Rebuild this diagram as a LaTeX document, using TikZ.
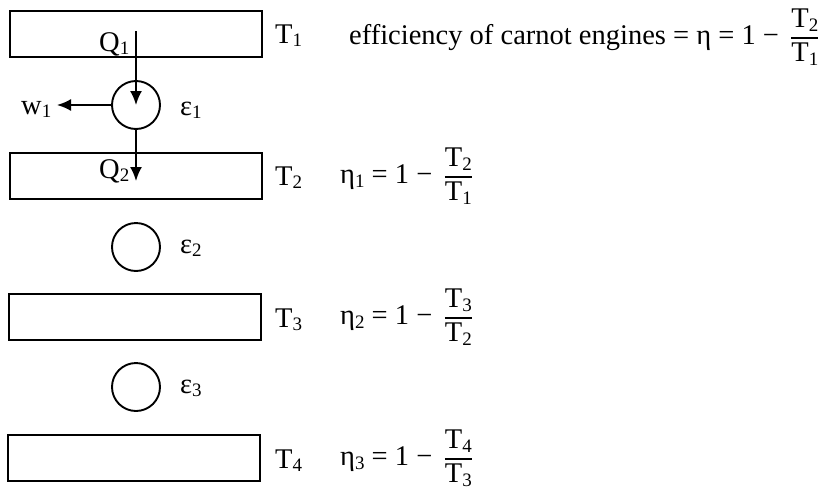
\documentclass[tikz,border=0pt]{standalone}
\usepackage{amsmath}
\usepackage{fontspec}
\setmainfont{Liberation Serif}
\usetikzlibrary{arrows.meta}

\newcommand{\sub}[1]{\raisebox{-0.3ex}{\fontsize{19}{19}\selectfont #1}}
\newcommand{\frc}[2]{$\,\genfrac{}{}{1.3pt}{0}{\text{#1}}{\text{#2}}$}

\begin{document}
\begin{tikzpicture}[x=1pt,y=-1pt,
    font=\fontsize{28.5}{34}\selectfont,
    >={Latex[length=14pt,width=12pt]},
    deposito/.style={draw,line width=1.9pt,minimum width=252pt,minimum height=46pt,inner sep=0pt},
    motor/.style={draw,circle,line width=1.9pt,minimum size=48pt,inner sep=0pt},
    flujo/.style={->,line width=1.9pt},
    rotulo/.style={anchor=base west,inner sep=0pt}]
\useasboundingbox (0,0) rectangle (819,490);

% Depositos de calor
\node[deposito] (d1) at (136,34) {};
\node[deposito] (d2) at (136,176) {};
\node[deposito] (d3) at (135,317) {};
\node[deposito] (d4) at (134,458) {};
\node[rotulo] (t1) at (275,43) {T\sub{1}};
\node[rotulo] (t2) at (275,185) {T\sub{2}};
\node[rotulo] (t3) at (275,327) {T\sub{3}};
\node[rotulo] (t4) at (275,468) {T\sub{4}};

% Maquinas de Carnot
\node[motor] (e1) at (136,105) {};
\node[motor] (e2) at (136,247) {};
\node[motor] (e3) at (136,387) {};
\node[rotulo] (m1) at (180,115) {ε\sub{1}};
\node[rotulo] (m2) at (180,253) {ε\sub{2}};
\node[rotulo] (m3) at (180,393) {ε\sub{3}};

% Flujos de calor y trabajo
\node[rotulo] (q1) at (99,51) {Q\sub{1}};
\node[rotulo] (q2) at (99,178) {Q\sub{2}};
\node[rotulo] (w1) at (21,114) {w\sub{1}};
\coordinate (q1a) at (136,31);
\coordinate (q2b) at (136,181);
\coordinate (w1a) at (57,105);
\draw[flujo] (q1a) -- (e1.center);
\draw[flujo] (e1.south) -- (q2b);
\draw[flujo] (e1.west) -- (w1a);

% Rendimientos
\node[anchor=west,inner sep=0pt] (ef) at (349,37) {efficiency of carnot engines = η = 1 − \frc{T\sub{2}}{T\sub{1}}};
\node[anchor=west,inner sep=0pt] (n1) at (340,176) {η\sub{1} = 1 − \frc{T\sub{2}}{T\sub{1}}};
\node[anchor=west,inner sep=0pt] (n2) at (340,317) {η\sub{2} = 1 − \frc{T\sub{3}}{T\sub{2}}};
\node[anchor=west,inner sep=0pt] (n3) at (340,458) {η\sub{3} = 1 − \frc{T\sub{4}}{T\sub{3}}};
\end{tikzpicture}
\end{document}
